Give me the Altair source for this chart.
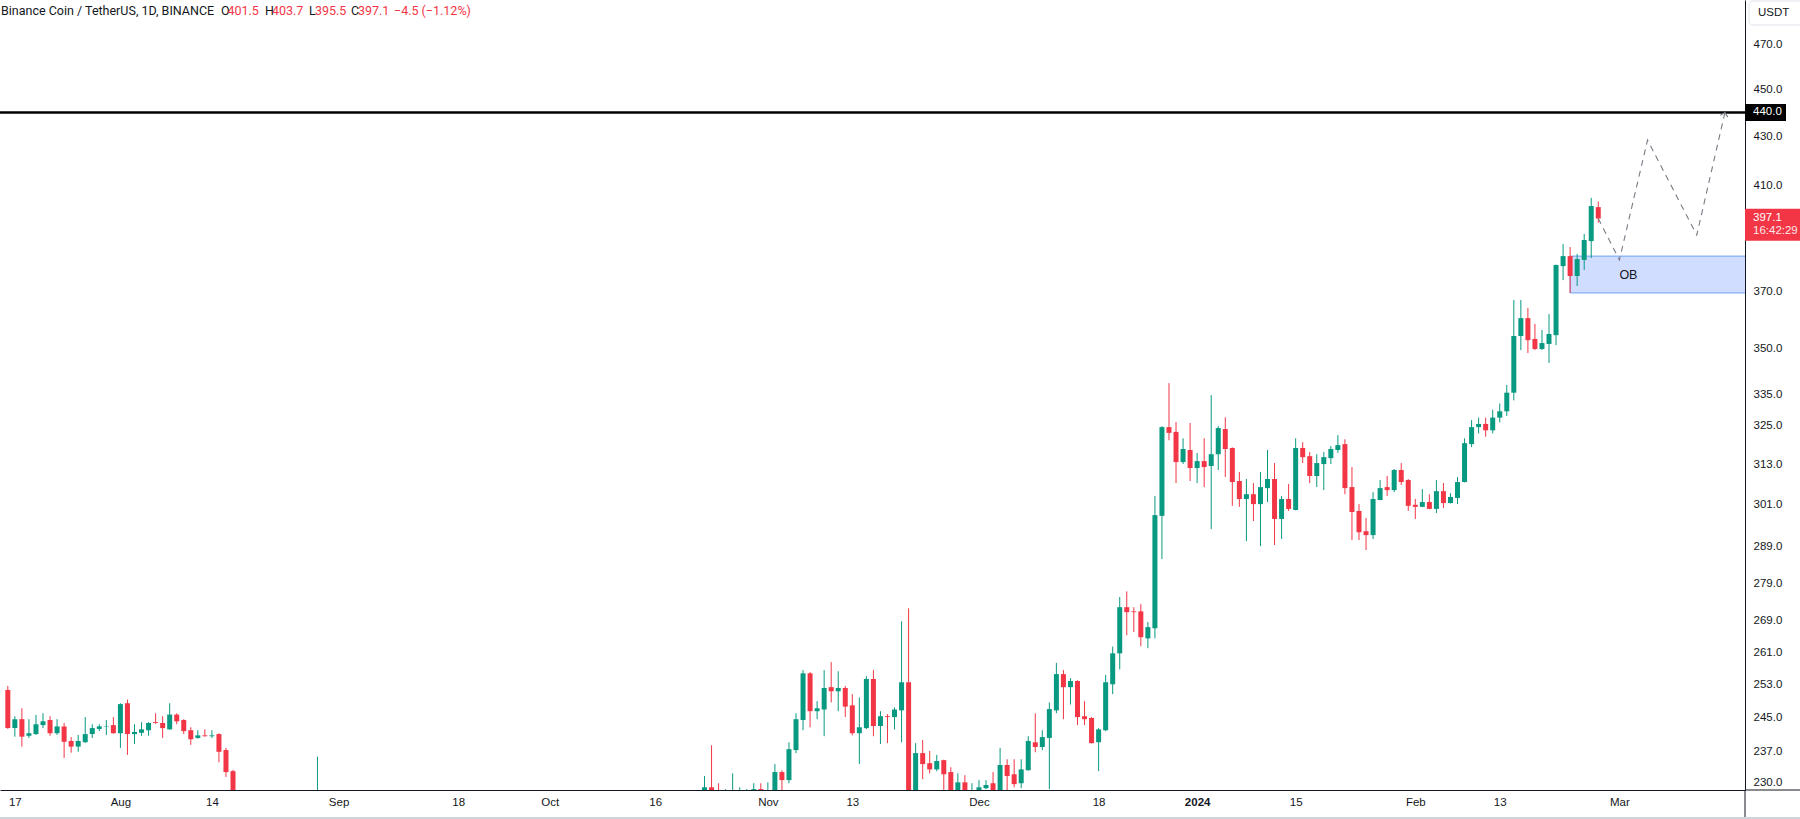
import altair as alt
import pandas as pd

# ---------------- data (BNB / USDT, daily) ----------------
dates = [
    "2023-07-16", "2023-07-17", "2023-07-18", "2023-07-19", "2023-07-20", "2023-07-21", "2023-07-22",
    "2023-07-23", "2023-07-24", "2023-07-25", "2023-07-26", "2023-07-27", "2023-07-28", "2023-07-29",
    "2023-07-30", "2023-07-31", "2023-08-01", "2023-08-02", "2023-08-03", "2023-08-04", "2023-08-05",
    "2023-08-06", "2023-08-07", "2023-08-08", "2023-08-09", "2023-08-10", "2023-08-11", "2023-08-12",
    "2023-08-13", "2023-08-14", "2023-08-15", "2023-08-16", "2023-08-17", "2023-08-29",
    "2023-10-23", "2023-10-24", "2023-10-25", "2023-10-26", "2023-10-27", "2023-10-28", "2023-10-29",
    "2023-10-30", "2023-10-31", "2023-11-01", "2023-11-02", "2023-11-03", "2023-11-04", "2023-11-05",
    "2023-11-06", "2023-11-07", "2023-11-08", "2023-11-09", "2023-11-10", "2023-11-11", "2023-11-12",
    "2023-11-13", "2023-11-14", "2023-11-15", "2023-11-16", "2023-11-17", "2023-11-18", "2023-11-19",
    "2023-11-20", "2023-11-21", "2023-11-22", "2023-11-23", "2023-11-24", "2023-11-25", "2023-11-26",
    "2023-11-27", "2023-11-28", "2023-11-29", "2023-11-30", "2023-12-01", "2023-12-02", "2023-12-03",
    "2023-12-04", "2023-12-05", "2023-12-06", "2023-12-07", "2023-12-08", "2023-12-09", "2023-12-10",
    "2023-12-11", "2023-12-12", "2023-12-13", "2023-12-14", "2023-12-15", "2023-12-16", "2023-12-17",
    "2023-12-18", "2023-12-19", "2023-12-20", "2023-12-21", "2023-12-22", "2023-12-23", "2023-12-24",
    "2023-12-25", "2023-12-26", "2023-12-27", "2023-12-28", "2023-12-29", "2023-12-30", "2023-12-31",
    "2024-01-01", "2024-01-02", "2024-01-03", "2024-01-04", "2024-01-05", "2024-01-06", "2024-01-07",
    "2024-01-08", "2024-01-09", "2024-01-10", "2024-01-11", "2024-01-12", "2024-01-13", "2024-01-14",
    "2024-01-15", "2024-01-16", "2024-01-17", "2024-01-18", "2024-01-19", "2024-01-20", "2024-01-21",
    "2024-01-22", "2024-01-23", "2024-01-24", "2024-01-25", "2024-01-26", "2024-01-27", "2024-01-28",
    "2024-01-29", "2024-01-30", "2024-01-31", "2024-02-01", "2024-02-02", "2024-02-03", "2024-02-04",
    "2024-02-05", "2024-02-06", "2024-02-07", "2024-02-08", "2024-02-09", "2024-02-10", "2024-02-11",
    "2024-02-12", "2024-02-13", "2024-02-14", "2024-02-15", "2024-02-16", "2024-02-17", "2024-02-18",
    "2024-02-19", "2024-02-20", "2024-02-21", "2024-02-22", "2024-02-23", "2024-02-24", "2024-02-25",
    "2024-02-26", "2024-02-27",
]
opens = [
    251.6, 242.5, 244.6, 240.7, 241.1, 243.2, 244.4,
    241.3, 242.9, 239.5, 238.2, 239.2, 241.1, 242.3,
    242.8, 243.2, 241.3, 248.4, 241.1, 241.4, 242.0,
    243.9, 243.7, 242.2, 245.7, 244.4, 242.0, 240.2,
    240.8, 240.6, 241.1, 237.4, 232.6, 214.0,
    213.0, 229.0, 224.0, 223.0, 224.0, 226.0, 227.0,
    227.0, 228.6, 227.0, 227.5, 232.4, 230.6, 237.4,
    244.4, 255.7, 246.5, 246.9, 252.3, 251.3, 252.1,
    247.9, 241.3, 242.5, 254.3, 243.0, 245.3, 245.1,
    246.7, 253.5, 224.0, 236.7, 234.4, 233.0, 235.1,
    232.4, 227.5, 230.1, 227.5, 228.0, 228.8, 229.9,
    227.5, 234.0, 231.9, 229.9, 232.8, 239.2, 238.1,
    240.2, 246.7, 255.5, 252.3, 253.8, 245.3, 244.9,
    239.2, 242.0, 253.0, 260.7, 272.6, 271.5, 271.5,
    264.5, 267.1, 297.8, 324.5, 323.0, 313.7, 317.4,
    311.9, 314.0, 312.5, 316.1, 323.9, 318.0, 308.0,
    302.7, 304.1, 301.2, 305.9, 308.6, 296.9, 302.7,
    299.5, 318.0, 315.5, 309.5, 313.1, 314.9, 317.4,
    319.2, 306.2, 299.2, 293.4, 292.3, 302.4, 306.2,
    305.3, 311.3, 308.3, 301.0, 300.4, 301.8, 299.8,
    305.0, 301.5, 303.0, 307.7, 319.2, 324.5, 325.5,
    323.5, 327.5, 329.5, 335.5, 354.4, 360.6, 353.4,
    350.0, 351.7, 354.7, 379.2, 382.9, 375.6, 381.5,
    388.5, 401.5,
]
highs = [
    252.6, 245.3, 247.2, 244.6, 245.6, 246.0, 245.3,
    244.6, 243.7, 240.4, 240.9, 245.1, 243.4, 243.4,
    244.4, 245.1, 248.4, 249.3, 243.4, 243.9, 243.9,
    246.0, 245.3, 248.4, 246.0, 244.6, 242.7, 242.0,
    242.2, 242.0, 241.3, 237.9, 232.9, 235.9,
    231.5, 238.5, 229.9, 228.6, 232.1, 229.0, 228.6,
    229.9, 229.9, 230.1, 234.2, 232.8, 239.2, 246.0,
    256.5, 256.0, 248.9, 256.5, 258.5, 256.2, 252.6,
    250.6, 249.8, 255.0, 256.5, 246.5, 245.8, 247.4,
    268.9, 272.3, 239.0, 239.7, 237.2, 236.3, 235.2,
    233.5, 232.1, 231.7, 229.9, 230.6, 230.6, 232.4,
    237.9, 235.3, 235.3, 235.3, 240.6, 246.0, 242.0,
    248.6, 258.3, 256.5, 254.5, 254.0, 248.9, 245.1,
    242.5, 255.3, 262.4, 275.3, 276.8, 272.6, 273.4,
    268.7, 303.6, 324.8, 338.6, 326.1, 321.0, 325.8,
    316.5, 321.0, 334.7, 324.8, 327.6, 318.2, 310.7,
    308.6, 307.4, 310.7, 317.4, 313.4, 303.6, 307.1,
    321.0, 319.8, 316.8, 316.1, 316.8, 318.6, 322.0,
    320.7, 312.2, 301.2, 297.2, 304.7, 308.3, 309.5,
    311.6, 313.4, 308.6, 302.7, 305.6, 304.1, 308.3,
    307.4, 304.4, 309.2, 321.0, 326.7, 327.5, 327.5,
    330.0, 332.0, 338.0, 367.0, 367.0, 364.2, 358.6,
    356.5, 362.0, 379.8, 387.4, 386.3, 383.7, 391.2,
    405.1, 403.7,
]
lows = [
    242.3, 240.5, 238.2, 240.2, 240.9, 242.5, 240.7,
    240.9, 235.6, 236.8, 237.0, 239.1, 240.2, 241.8,
    240.9, 241.2, 237.9, 236.3, 238.8, 240.7, 240.7,
    243.5, 240.2, 242.1, 243.4, 241.1, 238.6, 240.0,
    240.5, 240.2, 234.6, 231.3, 205.0, 212.0,
    211.0, 220.0, 219.0, 221.0, 222.0, 223.0, 225.0,
    226.0, 225.0, 224.0, 226.0, 227.5, 229.9, 236.7,
    242.0, 242.7, 244.6, 240.6, 248.6, 246.5, 245.1,
    240.8, 234.2, 242.3, 240.6, 238.8, 239.0, 242.2,
    239.2, 222.0, 222.0, 230.8, 232.1, 232.6, 227.0,
    226.0, 226.0, 226.0, 226.0, 227.0, 228.6, 227.0,
    227.0, 228.4, 229.0, 228.8, 232.8, 236.9, 237.4,
    228.6, 246.0, 244.6, 248.1, 243.2, 243.2, 238.9,
    232.6, 241.8, 250.6, 256.7, 265.3, 266.1, 262.5,
    262.0, 264.5, 285.6, 320.4, 307.4, 313.1, 308.0,
    307.4, 306.2, 294.0, 311.3, 309.2, 300.7, 300.4,
    290.6, 296.3, 289.2, 301.8, 289.5, 291.2, 299.2,
    299.4, 313.4, 307.4, 306.2, 305.3, 313.1, 316.5,
    304.1, 290.9, 290.9, 288.1, 291.2, 302.3, 303.6,
    304.7, 306.8, 299.2, 296.9, 300.3, 299.7, 298.6,
    300.1, 301.4, 301.2, 307.6, 318.3, 322.5, 321.5,
    322.5, 326.0, 328.0, 333.0, 349.6, 348.6, 349.6,
    349.6, 345.3, 351.3, 374.1, 369.5, 372.0, 377.8,
    382.2, 395.5,
]
closes = [
    242.5, 244.6, 240.5, 241.3, 243.4, 244.1, 241.3,
    242.9, 239.3, 238.2, 239.5, 241.1, 242.5, 242.9,
    242.9, 241.3, 248.2, 241.1, 241.6, 242.2, 243.7,
    243.7, 242.5, 245.7, 244.1, 241.8, 239.9, 240.8,
    240.6, 240.8, 237.0, 232.4, 216.0, 222.0,
    229.0, 224.0, 223.0, 224.0, 226.0, 227.0, 228.0,
    228.6, 227.5, 228.0, 232.4, 230.6, 237.6, 244.6,
    255.7, 246.5, 247.2, 252.1, 251.3, 252.1, 247.6,
    241.3, 242.7, 254.3, 243.0, 245.3, 245.1, 246.9,
    253.5, 224.0, 236.7, 234.2, 233.0, 234.9, 231.9,
    227.5, 230.1, 227.8, 228.0, 229.0, 229.5, 228.0,
    234.0, 231.5, 229.7, 233.0, 239.5, 238.1, 240.4,
    247.0, 255.5, 252.3, 253.8, 245.1, 244.6, 239.0,
    242.2, 253.5, 260.7, 272.6, 271.3, 271.3, 264.8,
    267.4, 298.0, 324.5, 322.7, 313.7, 317.7, 311.9,
    314.0, 312.2, 316.1, 324.2, 317.7, 307.7, 302.7,
    304.1, 301.2, 306.2, 308.6, 296.9, 302.7, 299.8,
    318.0, 315.2, 309.5, 313.4, 315.2, 317.7, 318.9,
    305.9, 298.9, 293.1, 292.3, 302.7, 305.9, 305.3,
    311.3, 307.7, 300.7, 300.4, 301.8, 299.8, 305.0,
    301.5, 303.3, 307.7, 319.5, 324.5, 325.5, 323.5,
    327.5, 329.5, 335.5, 354.4, 360.6, 353.0, 350.0,
    352.0, 355.1, 379.6, 382.9, 375.6, 381.8, 388.9,
    401.9, 397.1,
]

price_ticks = [230, 237, 245, 253, 261, 269, 279, 289, 301, 313, 325, 335, 350, 370, 410, 430, 450, 470]
time_ticks = ["2023-07-17", "2023-08-01", "2023-08-14", "2023-09-01", "2023-09-18", "2023-10-01",
              "2023-10-16", "2023-11-01", "2023-11-13", "2023-12-01", "2023-12-18", "2024-01-01",
              "2024-01-15", "2024-02-01", "2024-02-13", "2024-03-01"]

level_price = [440.0]
last_price = [397.1]
countdown = ["16:42:29"]

ob_start = ["2024-02-23"]
ob_end = ["2024-04-30"]
ob_low = [369.5]
ob_high = [382.9]
ob_label_date = ["2024-03-02"]

path_dates = ["2024-02-27", "2024-03-01", "2024-03-05", "2024-03-12", "2024-03-16"]
path_prices = [397.1, 381.5, 428.4, 390.8, 440.0]

header_title = "Binance Coin / TetherUS, 1D, BINANCE"
header_o, header_h, header_l, header_c = "401.5", "403.7", "395.5", "397.1"
header_change = "\u22124.5 (\u22121.12%)"

# ---------------- styling ----------------
UP, DOWN = "#089981", "#f23645"
TXT = "#131722"
FONT = "Liberation Sans"
HFONT = "Roboto"
DASH = "#787b86"
W, H = 1745, 790


def ms(t):
    return int(pd.Timestamp(t).value // 10**6)


day0 = pd.Timestamp("2024-01-01")
x_lo = day0 - pd.Timedelta(days=169.40)
x_hi = day0 + pd.Timedelta(days=77.14)

xscale = alt.Scale(type="utc", domain=[ms(x_lo), ms(x_hi)], nice=False)
yscale = alt.Scale(type="log", domain=[228.4, 490.6], nice=False, zero=False)

xaxis = alt.Axis(
    values=[ms(d) for d in time_ticks],
    labelExpr="utcdate(datum.value) == 1 ? (utcmonth(datum.value) == 0 ? utcFormat(datum.value, '%Y') : utcFormat(datum.value, '%b')) : '' + utcdate(datum.value)",
    labelFontWeight={"condition": {"test": "utcdate(datum.value) == 1 && utcmonth(datum.value) == 0", "value": "bold"}, "value": "normal"},
    title=None, ticks=False, grid=False, domain=True, domainColor=TXT, domainWidth=1,
    labelFont=FONT, labelFontSize=11.5, labelColor=TXT, labelPadding=6,
    labelFlush=False, labelOverlap=False,
)
yaxis = alt.Axis(
    orient="right", values=price_ticks, format=".1f", title=None, ticks=False, grid=False,
    domain=True, domainColor=TXT, domainWidth=1,
    labelFont=FONT, labelFontSize=11.5, labelColor=TXT, labelPadding=8,
    labelAlign="left", labelBaseline="middle", labelOverlap=False, labelFlush=False,
)


def X(f):
    return alt.X(f"{f}:T", scale=xscale, axis=xaxis)


def Y(f):
    return alt.Y(f"{f}:Q", scale=yscale, axis=yaxis)


df = pd.DataFrame({"date": dates, "open": opens, "high": highs, "low": lows, "close": closes})
df["dir"] = ["up" if c >= o else "down" for o, c in zip(opens, closes)]
color = alt.Color("dir:N", scale=alt.Scale(domain=["up", "down"], range=[UP, DOWN]), legend=None)

base = alt.Chart(df)
wicks = base.mark_rule(strokeWidth=1, clip=True).encode(x=X("date"), y=Y("low"), y2="high:Q", color=color)
bodies = base.mark_bar(size=5, clip=True).encode(x=X("date"), y=Y("open"), y2="close:Q", color=color)

ob_df = pd.DataFrame({"s": ob_start, "e": ob_end, "lo": ob_low, "hi": ob_high})
ob_rect = alt.Chart(ob_df).mark_rect(clip=True, fill="#2962ff", fillOpacity=0.22, stroke="#6fa0f5",
                                     strokeWidth=1).encode(x=X("s"), x2="e:T", y=Y("lo"), y2="hi:Q")
ob_txt = alt.Chart(pd.DataFrame({"d": ob_label_date, "p": [(ob_low[0] * ob_high[0]) ** 0.5], "t": ["OB"]})) \
    .mark_text(font=FONT, fontSize=12.5, color=TXT, dx=2).encode(x=X("d"), y=Y("p"), text="t:N")

lvl_df = pd.DataFrame({"p": level_price, "t": [f"{v:.1f}" for v in level_price]})
level_line = alt.Chart(lvl_df).mark_rule(color="#000000", strokeWidth=2.6, clip=True).encode(y=Y("p"))

path_df = pd.DataFrame({"d": path_dates, "p": path_prices})
path = alt.Chart(path_df).mark_line(color=DASH, strokeWidth=1.1, strokeDash=[6, 5], clip=True) \
    .encode(x=X("d"), y=Y("p"))
arrow = alt.Chart(path_df.tail(1)).mark_point(shape="M -1 1 L 0 0 L 1 1", filled=False, color=DASH,
                                              strokeWidth=1.1, size=60, angle=13, opacity=1) \
    .encode(x=X("d"), y=Y("p"))

# price-scale badges
lvl_box = alt.Chart(lvl_df).mark_rule(color="#000000", strokeWidth=17).encode(
    y=Y("p"), x=alt.value(W), x2=alt.value(W + 41))
lvl_txt = alt.Chart(lvl_df).mark_text(align="left", baseline="middle", color="white", font=FONT,
                                      fontSize=11.5).encode(y=Y("p"), x=alt.value(W + 8), text="t:N")
last_df = pd.DataFrame({"p": last_price, "t": [f"{v:.1f}" for v in last_price], "cd": countdown})
last_box = alt.Chart(last_df).mark_rule(color=DOWN, strokeWidth=32, yOffset=6.3).encode(
    y=Y("p"), x=alt.value(W), x2=alt.value(W + 56))
last_txt = alt.Chart(last_df).mark_text(align="left", baseline="middle", color="white", font=FONT,
                                        fontSize=11.5).encode(y=Y("p"), x=alt.value(W + 8), text="t:N")
cd_txt = alt.Chart(last_df).mark_text(align="left", baseline="middle", color="#fde7e9", font=FONT,
                                      fontSize=11.5, dy=12.5).encode(y=Y("p"), x=alt.value(W + 8), text="cd:N")


def label(text, x, y, color=TXT, size=12.5, font=HFONT, weight="normal"):
    return alt.Chart(pd.DataFrame({"t": [text]})).mark_text(
        align="left", baseline="middle", color=color, font=font, fontSize=size, fontWeight=weight
    ).encode(x=alt.value(x), y=alt.value(y), text="t:N")


header = [
    label(header_title, 1, 11),
    label("O", 221, 11), label(header_o, 227.5, 11, DOWN),
    label("H", 265, 11), label(header_h, 272, 11, DOWN),
    label("L", 309, 11), label(header_l, 315, 11, DOWN),
    label("C", 351, 11), label(header_c, 358, 11, DOWN),
    label(header_change, 394, 11, DOWN),
]

usdt_box = alt.Chart(pd.DataFrame({"t": ["USDT"]})).mark_rect(
    fill="white", stroke="#e0e3eb", strokeWidth=1, cornerRadius=4
).encode(x=alt.value(W + 4), x2=alt.value(W + 62), y=alt.value(1), y2=alt.value(25))
usdt_txt = label("USDT", W + 13, 12.5, TXT, 11.5, FONT)

# frame lines of the price / time scales
frame_v = alt.Chart(pd.DataFrame({"t": [0]})).mark_rule(color=TXT, strokeWidth=1).encode(
    x=alt.value(W), y=alt.value(H), y2=alt.value(H + 29))
frame_h = alt.Chart(pd.DataFrame({"t": [0]})).mark_rule(color=TXT, strokeWidth=1).encode(
    x=alt.value(W), x2=alt.value(W + 55), y=alt.value(H))
frame_b = alt.Chart(pd.DataFrame({"t": [0]})).mark_rule(color="#d1d4dc", strokeWidth=2).encode(
    x=alt.value(0), x2=alt.value(W + 55), y=alt.value(H + 28))

chart = alt.layer(
    ob_rect, level_line, wicks, bodies, path, arrow, ob_txt,
    lvl_box, lvl_txt, last_box, last_txt, cd_txt,
    *header, usdt_box, usdt_txt, frame_v, frame_h, frame_b,
).properties(
    width=W, height=H,
    autosize=alt.AutoSizeParams(type="none"),
    padding={"left": 0, "top": 0, "right": 55, "bottom": 29},
    background="white",
).configure_view(stroke=None)

chart.save("out.html", embed_options={"renderer": "svg", "actions": False})
